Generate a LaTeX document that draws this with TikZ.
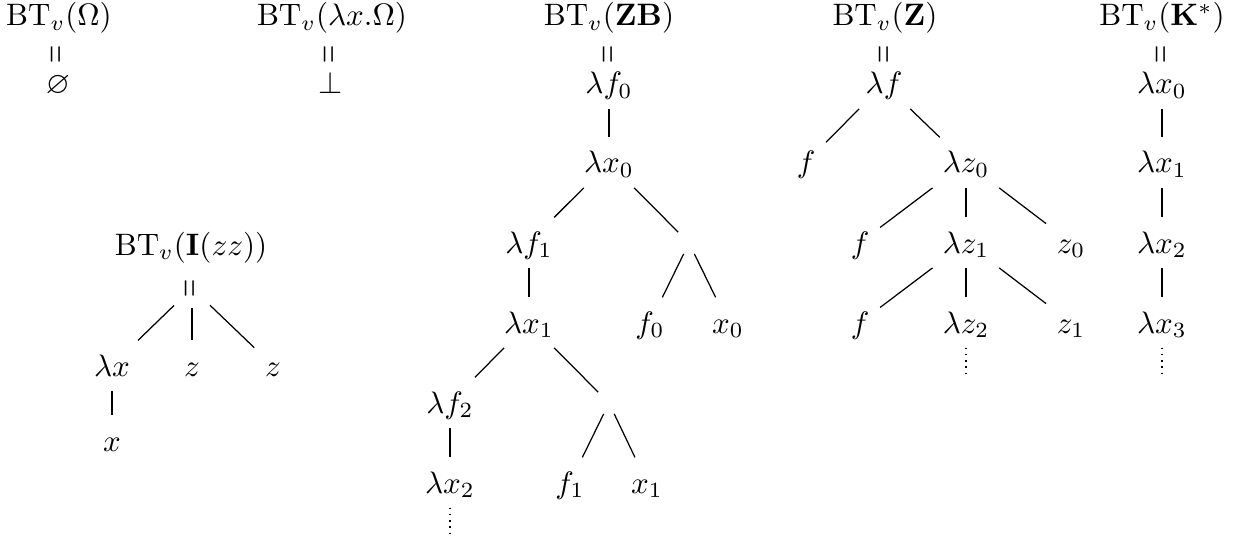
\documentclass[tikz,border=0pt]{standalone}
\usepackage{amsmath,amssymb}
\usepackage{graphicx}
\usepackage{tikz}

\newcommand{\rotEq}{\rotatebox{90}{\scalebox{0.75}[1.25]{$=$}}}

\tikzset{
  hdr/.style={anchor=base, inner sep=0pt},
  eqs/.style={inner sep=3.3pt},
  lam/.style={anchor=base, inner sep=3.3pt, text height=8pt, text depth=1.3pt},
  hole/.style={inner sep=3.3pt},
  dots/.style={dash pattern=on 0.4pt off 1.6pt},
}

\begin{document}
\begin{tikzpicture}[x=0.3226pt, y=-0.3226pt]
  \useasboundingbox (0,0) rectangle (1234,538);

  % Omega
  \node[hdr] (hO) at (59,26) {$\mathrm{BT}_v(\Omega)$};
  \node[eqs] (eO) at (58,54) {\rotEq};
  \node[lam] (rO) at (58,94) {$\varnothing$};

  % lambda x.Omega
  \node[hdr] (hL) at (332,26) {$\mathrm{BT}_v(\lambda x.\Omega)$};
  \node[eqs] (eL) at (331,54) {\rotEq};
  \node[lam] (rL) at (331,94) {$\bot$};

  % I(zz)
  \node[hdr] (hI) at (191,255) {$\mathrm{BT}_v(\mathbf{I}(zz))$};
  \node[eqs] (app) at (192,288) {\rotEq};
  \node[lam] (ilx) at (112,376) {$\lambda x$};
  \node[lam] (iz1) at (192,376) {$z$};
  \node[lam] (iz2) at (273,376) {$z$};
  \node[lam] (ix) at (112,451) {$x$};
  \draw (app) -- (ilx);
  \draw (app) -- (iz1);
  \draw (app) -- (iz2);
  \draw (ilx) -- (ix);

  % ZB
  \node[hdr] (hZB) at (609,26) {$\mathrm{BT}_v(\mathbf{ZB})$};
  \node[eqs] (eZB) at (610,54) {\rotEq};
  \node[lam] (lf0) at (609,94) {$\lambda f_0$};
  \node[lam] (lx0) at (609,173) {$\lambda x_0$};
  \node[lam] (lf1) at (529,253) {$\lambda f_1$};
  \node[hole] (ap0) at (689,243) {};
  \node[lam] (af0) at (650,333) {$f_0$};
  \node[lam] (ax0) at (728,333) {$x_0$};
  \node[lam] (lx1) at (529,333) {$\lambda x_1$};
  \node[lam] (lf2) at (450,413) {$\lambda f_2$};
  \node[hole] (ap1) at (609,403) {};
  \node[lam] (af1) at (570,493) {$f_1$};
  \node[lam] (ax1) at (647,493) {$x_1$};
  \node[lam] (lx2) at (450,493) {$\lambda x_2$};
  \coordinate (dZB) at (450,535);
  \draw (lf0) -- (lx0);
  \draw (lx0) -- (lf1);
  \draw (lx0) -- (ap0);
  \draw (ap0) -- (af0);
  \draw (ap0) -- (ax0);
  \draw (lf1) -- (lx1);
  \draw (lx1) -- (lf2);
  \draw (lx1) -- (ap1);
  \draw (ap1) -- (af1);
  \draw (ap1) -- (ax1);
  \draw (lf2) -- (lx2);
  \draw[dots] (lx2) -- (dZB);

  % Z
  \node[hdr] (hZ) at (885,26) {$\mathrm{BT}_v(\mathbf{Z})$};
  \node[eqs] (eZ) at (886,54) {\rotEq};
  \node[lam] (zlf) at (884,94) {$\lambda f$};
  \node[lam] (zf0) at (806,173) {$f$};
  \node[lam] (zl0) at (966,173) {$\lambda z_0$};
  \node[lam] (zf1) at (860,253) {$f$};
  \node[lam] (zl1) at (966,253) {$\lambda z_1$};
  \node[lam] (zv0) at (1071,253) {$z_0$};
  \node[lam] (zf2) at (860,333) {$f$};
  \node[lam] (zl2) at (966,333) {$\lambda z_2$};
  \node[lam] (zv1) at (1071,333) {$z_1$};
  \coordinate (dZ) at (966,374);
  \draw (zlf) -- (zf0);
  \draw (zlf) -- (zl0);
  \draw (zl0) -- (zf1);
  \draw (zl0) -- (zl1);
  \draw (zl0) -- (zv0);
  \draw (zl1) -- (zf2);
  \draw (zl1) -- (zl2);
  \draw (zl1) -- (zv1);
  \draw[dots] (zl2) -- (dZ);

  % K*
  \node[hdr] (hK) at (1162,26) {$\mathrm{BT}_v(\mathbf{K}^*)$};
  \node[eqs] (eK) at (1163,54) {\rotEq};
  \foreach \i/\y in {0/94,1/173,2/253,3/333}
    \node[lam] (k\i) at (1162,\y) {$\lambda x_\i$};
  \foreach \i/\j in {0/1,1/2,2/3}
    \draw (k\i) -- (k\j);
  \coordinate (dK) at (1162,374);
  \draw[dots] (k3) -- (dK);
\end{tikzpicture}
\end{document}
